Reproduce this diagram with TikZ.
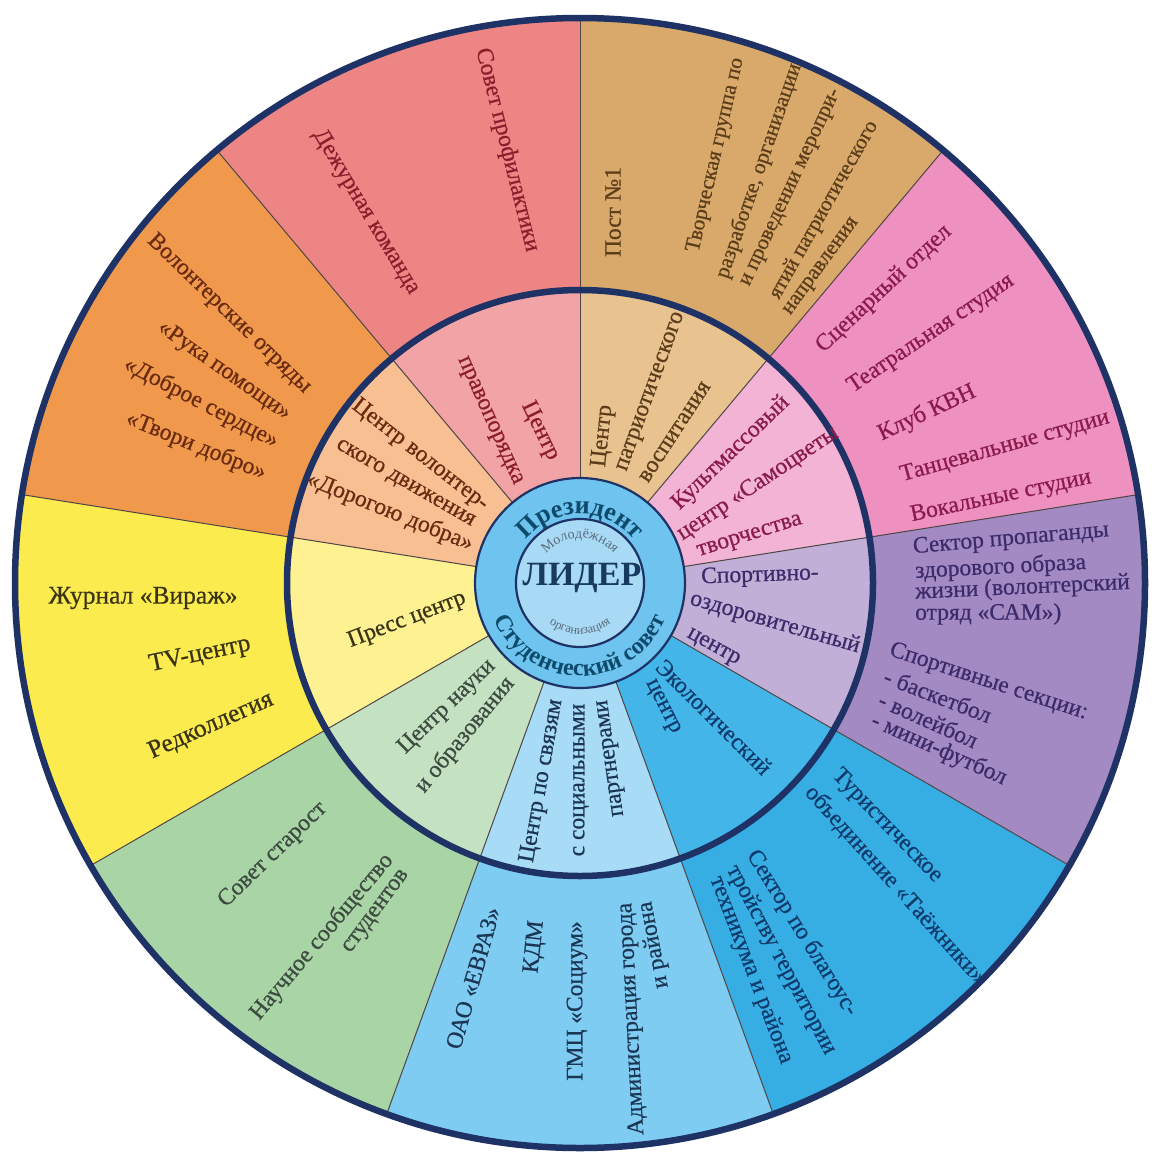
\documentclass[tikz,border=0pt]{standalone}
\usepackage{fontspec}
\setmainfont{Liberation Serif}
\newfontfamily\lblfont{Liberation Serif}[FakeBold=0.6]
\usetikzlibrary{decorations.text}
\definecolor{navy}{HTML}{1E3266}
\definecolor{sep}{HTML}{4F4646}
\definecolor{oA}{HTML}{EE8585}\definecolor{iA}{HTML}{F2A3A6}
\definecolor{oB}{HTML}{D9A96B}\definecolor{iB}{HTML}{E8C28F}
\definecolor{oC}{HTML}{EE90C0}\definecolor{iC}{HTML}{F3B3D4}
\definecolor{oD}{HTML}{A38AC3}\definecolor{iD}{HTML}{C2AFD8}
\definecolor{oE}{HTML}{36AEE4}\definecolor{iE}{HTML}{44B5E8}
\definecolor{oF}{HTML}{7FCCF3}\definecolor{iF}{HTML}{A8DBF6}
\definecolor{oG}{HTML}{A8D4A6}\definecolor{iG}{HTML}{C4E1C1}
\definecolor{oH}{HTML}{FCEB4E}\definecolor{iH}{HTML}{FEF192}
\definecolor{oI}{HTML}{F0994C}\definecolor{iI}{HTML}{F7BF92}
\definecolor{ringblue}{HTML}{6EC4EE}
\definecolor{coreblue}{HTML}{A8DAF5}
\definecolor{tA}{HTML}{8C1D2C}
\definecolor{tB}{HTML}{5C3D1A}
\definecolor{tC}{HTML}{8A1B4B}
\definecolor{tD}{HTML}{3C2B6B}
\definecolor{tE}{HTML}{0F3B6C}
\definecolor{tF}{HTML}{1C3553}
\definecolor{tG}{HTML}{3D4B40}
\definecolor{tH}{HTML}{3A3416}
\definecolor{tI}{HTML}{6B2B10}
\definecolor{tCen}{HTML}{0E4A6C}
\definecolor{tLid}{HTML}{173A5E}
\definecolor{tMol}{HTML}{5B6B7D}
\tikzset{
  lbl/.style={font=\lblfont\fontsize{23.5}{26}\selectfont, inner sep=0pt, anchor=center},
  lblb/.style={lbl, font=\lblfont\fontsize{21.5}{24}\selectfont},
  lbly/.style={lbl, font=\lblfont\fontsize{25.5}{28}\selectfont},
  sepline/.style={draw=sep, line width=1pt},
  bigring/.style={draw=navy, line width=6.5pt},
  smallring/.style={draw=navy, line width=2.2pt}
}
\begin{document}
\begin{tikzpicture}[x=1pt,y=1pt]
\useasboundingbox (0,0) rectangle (1157,-1159);
\fill[white] (0,0) rectangle (1157,-1159);
\coordinate (C) at (580,-583);
\begin{scope}[shift={(580,-583)}]
  \foreach \a/\b/\co/\ci in {90/130/oA/iA, 50/90/oB/iB, 9/50/oC/iC, -30/9/oD/iD, -70/-30/oE/iE, -110/-70/oF/iF, -150/-110/oG/iG, 171/210/oH/iH, 130/171/oI/iI} {
    \fill[\co] (0,0) -- (\a:565) arc[start angle=\a, end angle=\b, radius=565] -- cycle;
    \fill[\ci] (0,0) -- (\a:293) arc[start angle=\a, end angle=\b, radius=293] -- cycle;
  }
  \foreach \a in {90,50,9,-30,-70,-110,-150,171,130} {
    \draw[sepline] (\a:100) -- (\a:565);
  }
  \draw[bigring] (0,0) circle[radius=565];
  \draw[bigring] (0,0) circle[radius=293];
  \fill[ringblue] (0,0) circle[radius=105];
  \draw[smallring] (0,0) circle[radius=105];
  \fill[coreblue] (0,0) circle[radius=64];
  \draw[smallring] (0,0) circle[radius=64];
  \path[decorate, decoration={text along path, text align=center, text color=tCen,
      text={|\fontsize{26}{26}\selectfont\bfseries|Президент}}]
      (160:69) arc[start angle=160, end angle=20, radius=69];
  \path[decorate, decoration={text along path, text align=center, text color=tCen,
      text={|\fontsize{24}{24}\selectfont\bfseries|Студенческий совет}}]
      (180:93) arc[start angle=180, end angle=360, radius=93];
  \path[decorate, decoration={text along path, text align=center, text color=tMol,
      text={|\fontsize{14}{14}\selectfont|Молодёжная}}]
      (160:45) arc[start angle=160, end angle=20, radius=45];
  \path[decorate, decoration={text along path, text align=center, text color=tMol,
      text={|\fontsize{12.5}{12.5}\selectfont|организация}}]
      (200:51) arc[start angle=200, end angle=340, radius=51];
\end{scope}
\node[font=\fontsize{34}{34}\selectfont\bfseries, text=tLid, inner sep=0pt, anchor=base] (lider) at (582,-585) {ЛИДЕР};
% A
\node[lbl, text=tA, rotate=-76] (a1) at (507,-150) {Совет профилактики};
\node[lbl, text=tA, rotate=-59] (a2) at (366,-212) {Дежурная команда};
\node[lbl, text=tA, rotate=-64] (a3) at (540,-431) {Центр};
\node[lbl, text=tA, rotate=-66] (a4) at (489,-421) {правопорядка};
% B
\node[lbl, text=tB, rotate=90] (b1) at (613,-212) {Пост №1};
\node[lblb, text=tB, rotate=77] (b2) at (716,-155) {Творческая группа по};
\node[lblb, text=tB, rotate=71] (b3) at (759,-171) {разработке, организации};
\node[lblb, text=tB, rotate=65] (b4) at (792,-188) {и проведении меропри-};
\node[lblb, text=tB, rotate=60.5] (b5) at (824,-210) {ятий патриотического};
\node[lblb, text=tB, rotate=54] (b6) at (822,-267) {направления};
\node[lbl, text=tB, rotate=84] (b7) at (603,-436) {Центр};
\node[lbl, text=tB, rotate=70] (b8) at (652,-392) {патриотического};
\node[lbl, text=tB, rotate=57] (b9) at (675,-432) {воспитания};
% C
\node[lbl, text=tC, rotate=43] (c1) at (884,-289) {Сценарный отдел};
\node[lbl, text=tC, rotate=34] (c2) at (931,-334) {Театральная студия};
\node[lbl, text=tC, rotate=25] (c3) at (927,-413) {Клуб КВН};
\node[lbl, text=tC, rotate=15.7] (c4) at (1005,-447) {Танцевальные студии};
\node[lbl, text=tC, rotate=12] (c5) at (1001,-497) {Вокальные студии};
\node[lbl, text=tC, rotate=44] (c6) at (731,-453) {Культмассовый};
\node[lbl, text=tC, rotate=33.6] (c7) at (758,-484) {центр «Самоцветы};
\node[lbl, text=tC, rotate=17.4] (c8) at (750,-537) {творчества};
% D
\node[lbl, text=tD, rotate=5, anchor=west] (d1) at (913,-548) {Сектор пропаганды};
\node[lbl, text=tD, rotate=3, anchor=west] (d2) at (915,-572) {здорового образа};
\node[lbl, text=tD, rotate=2.6, anchor=west] (d3) at (915,-593) {жизни (волонтерский};
\node[lbl, text=tD, rotate=0, anchor=west] (d4) at (915,-614) {отряд «САМ»)};
\node[lbl, text=tD, rotate=-18, anchor=west] (d5) at (890,-650) {Спортивные секции:};
\node[lbl, text=tD, rotate=-21, anchor=west] (d6) at (885,-675) {- баскетбол};
\node[lbl, text=tD, rotate=-24, anchor=west] (d7) at (880,-698) {- волейбол};
\node[lbl, text=tD, rotate=-24, anchor=west] (d8) at (872,-720) {- мини-футбол};
\node[lbl, text=tD, rotate=2] (d9) at (760,-576) {Спортивно-};
\node[lbl, text=tD, rotate=-16] (d10) at (775,-623) {оздоровительный};
\node[lbl, text=tD, rotate=-29] (d11) at (713,-648) {центр};
% E
\node[lbl, text=tE, rotate=-46] (e1) at (887,-826) {Туристическое};
\node[lbl, text=tE, rotate=-48] (e2) at (895,-885) {объединение «Таёжники»};
\node[lbl, text=tE, rotate=-58] (e3) at (802,-933) {Сектор по благоус-};
\node[lbl, text=tE, rotate=-62] (e4) at (781,-960) {тройству территории};
\node[lbl, text=tE, rotate=-69] (e5) at (751,-970) {техникума и района};
\node[lbl, text=tE, rotate=-45] (e6) at (714,-717) {Экологический};
\node[lbl, text=tE, rotate=-63] (e7) at (662,-707) {центр};
% F
\node[lbl, text=tF, rotate=74] (f1) at (473,-978) {ОАО «ЕВРАЗ»};
\node[lbl, text=tF, rotate=84] (f2) at (535,-947) {КДМ};
\node[lbl, text=tF, rotate=90] (f3) at (577,-1001) {ГМЦ «Социум»};
\node[lbl, text=tF, rotate=93] (f4) at (632,-1019) {Администрация города};
\node[lbl, text=tF, rotate=101] (f5) at (654,-945) {и района};
\node[lbl, text=tF, rotate=80] (f6) at (542,-781) {Центр по связям};
\node[lbl, text=tF, rotate=90] (f7) at (581,-780) {с социальными};
\node[lbl, text=tF, rotate=98] (f8) at (612,-758) {партнерами};
% G
\node[lbl, text=tG, rotate=44] (g1) at (273,-855) {Совет старост};
\node[lbl, text=tG, rotate=50] (g2) at (322,-937) {Научное сообщество};
\node[lbl, text=tG, rotate=53.5] (g3) at (377,-912) {студентов};
\node[lbl, text=tG, rotate=44] (g4) at (447,-707) {Центр науки};
\node[lbl, text=tG, rotate=50.5] (g5) at (465,-735) {и образования};
% H
\node[lbly, text=tH, rotate=0] (h1) at (143,-598) {Журнал «Вираж»};
\node[lbly, text=tH, rotate=12] (h2) at (200,-655) {TV-центр};
\node[lbly, text=tH, rotate=24] (h3) at (211,-726) {Редколлегия};
\node[lbl, text=tH, rotate=21] (h4) at (407,-620) {Пресс центр};
% I
\node[lbl, text=tI, rotate=-44] (i1) at (229,-314) {Волонтерские отряды};
\node[lbl, text=tI, rotate=-35] (i2) at (224,-371) {«Рука помощи»};
\node[lbl, text=tI, rotate=-27.6] (i3) at (201,-403) {«Доброе сердце»};
\node[lbl, text=tI, rotate=-22] (i4) at (196,-446) {«Твори добро»};
\node[lbl, text=tI, rotate=-38] (i5) at (420,-455) {Центр волонтер-};
\node[lbl, text=tI, rotate=-30] (i6) at (405,-484) {ского движения};
\node[lbl, text=tI, rotate=-22] (i7) at (390,-512) {«Дорогою добра»};
\end{tikzpicture}
\end{document}
